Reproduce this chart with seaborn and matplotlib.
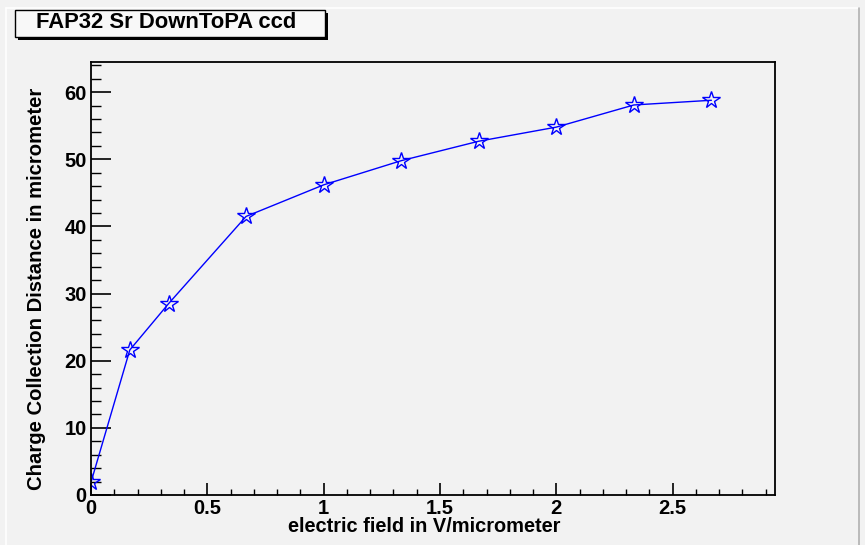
import matplotlib
matplotlib.use("Agg")
import matplotlib.pyplot as plt
import seaborn as sns
import pandas as pd
from matplotlib.patches import Rectangle
from matplotlib.lines import Line2D
from matplotlib.ticker import MultipleLocator

# Data
field = [0.0, 0.1667, 0.3333, 0.6667, 1.0, 1.3333, 1.6667, 2.0, 2.3333, 2.6667]
distance = [1.9, 21.6, 28.5, 41.5, 46.2, 49.8, 52.7, 54.8, 58.1, 58.8]
x_ticks = [0, 0.5, 1, 1.5, 2, 2.5]
x_tick_labels = ["0", "0.5", "1", "1.5", "2", "2.5"]
y_ticks = [0, 10, 20, 30, 40, 50, 60]
y_tick_labels = ["0", "10", "20", "30", "40", "50", "60"]
title = "FAP32 Sr DownToPA ccd"
xlabel = "electric field in V/micrometer"
ylabel = "Charge Collection Distance in micrometer"

df = pd.DataFrame({"field": field, "distance": distance})

sns.set_theme(style="white")
plt.rcParams["font.family"] = ["Liberation Sans", "DejaVu Sans"]
plt.rcParams["font.weight"] = "bold"
plt.rcParams["text.color"] = "black"
plt.rcParams["xtick.color"] = "black"
plt.rcParams["ytick.color"] = "black"
plt.rcParams["axes.labelcolor"] = "black"

bg = "#f2f2f2"
W, H = 865, 545
fig = plt.figure(figsize=(W / 100, H / 100), dpi=100, facecolor=bg)
ax = fig.add_axes([91 / W, 1 - 495 / H, (775 - 91) / W, (495 - 62) / H])
ax.set_facecolor(bg)

sns.lineplot(data=df, x="field", y="distance", ax=ax, color="blue", lw=1.0,
             marker="*", markersize=13, markerfacecolor="none",
             markeredgecolor="blue", markeredgewidth=1.0)

ax.set_xlim(0, 2.94)
ax.set_ylim(0, 64.5)
ax.set_xticks(x_ticks)
ax.set_xticklabels(x_tick_labels, fontsize=14.5, fontweight="bold", color="black")
ax.set_yticks(y_ticks)
ax.set_yticklabels(y_tick_labels, fontsize=14.5, fontweight="bold", color="black")
ax.xaxis.set_minor_locator(MultipleLocator(0.1))
ax.yaxis.set_minor_locator(MultipleLocator(2))
ax.tick_params(axis="x", which="major", direction="in", length=8.6, width=1.2, color="black", pad=3, bottom=True)
ax.tick_params(axis="x", which="minor", direction="in", length=4.3, width=1.0, color="black", bottom=True)
ax.tick_params(axis="y", which="major", direction="in", length=14.4, width=1.2, color="black", pad=3, left=True)
ax.tick_params(axis="y", which="minor", direction="in", length=7.2, width=1.0, color="black", left=True)
ax.set_xlabel("")
ax.set_ylabel("")
for s in ax.spines.values():
    s.set_color("black")
    s.set_linewidth(1.3)

fig.text(424 / W, 1 - 526 / H, xlabel, ha="center", va="center", fontsize=14.4, fontweight="bold", color="black")
fig.text(37 / W, 1 - 289 / H, ylabel, ha="center", va="center", rotation=90, fontsize=14.6, fontweight="bold", color="black")

# Title box with shadow
fig.patches.append(Rectangle((18 / W, 1 - 40 / H), (328 - 18) / W, (40 - 13) / H,
                             transform=fig.transFigure, facecolor="black", edgecolor="none", zorder=1))
fig.patches.append(Rectangle((15 / W, 1 - 37 / H), (325 - 15) / W, (37 - 10) / H,
                             transform=fig.transFigure, facecolor="#f8f8f8", edgecolor="black", lw=1.0, zorder=2))
fig.text(166 / W, 1 - 23 / H, title, ha="center", va="center", fontsize=15.8, fontweight="bold", color="black", zorder=3)

# Canvas border
fig.add_artist(Line2D([6 / W, 6 / W], [0, 1 - 8 / H], transform=fig.transFigure, color="white", lw=1.2))
fig.add_artist(Line2D([6 / W, 859 / W], [1 - 8 / H, 1 - 8 / H], transform=fig.transFigure, color="white", lw=1.2))
fig.add_artist(Line2D([859 / W, 859 / W], [0, 1 - 8 / H], transform=fig.transFigure, color="#b0b0b0", lw=1.2))

fig.savefig("out.png", dpi=100, facecolor=bg)
